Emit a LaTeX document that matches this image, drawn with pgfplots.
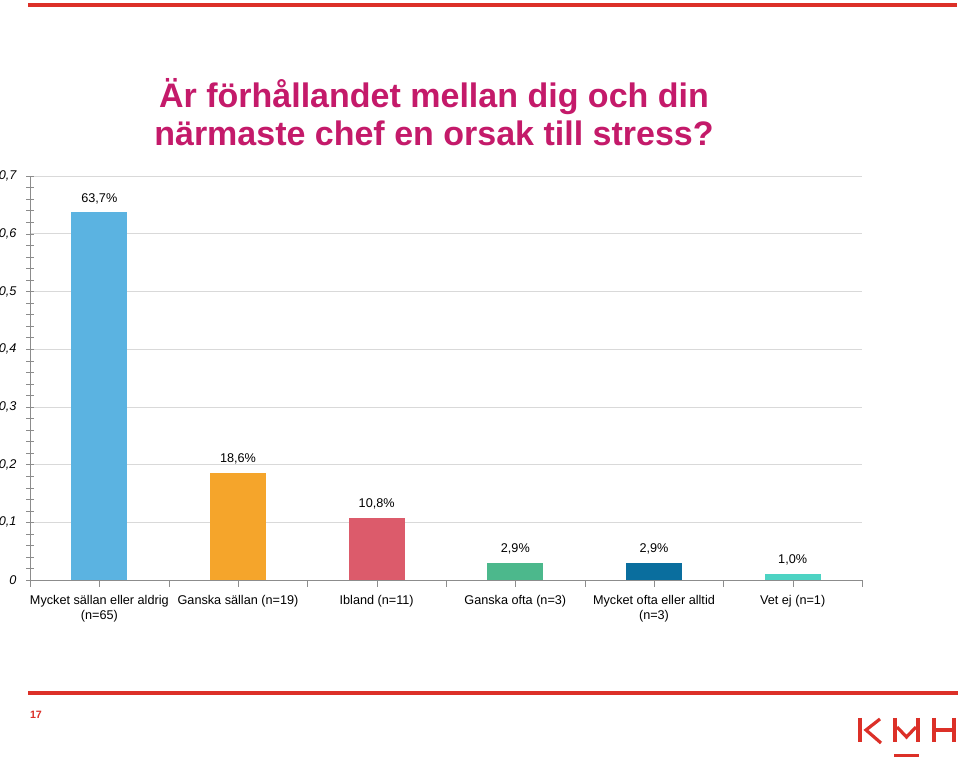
\documentclass[border=0pt]{standalone}
\usepackage{fontspec}
\setmainfont{Liberation Sans}
\usepackage{pgfplots}
\pgfplotsset{compat=1.18}
\definecolor{titlemag}{HTML}{C41A6A}
\definecolor{kmhred}{HTML}{DC3028}
\definecolor{axgray}{HTML}{8C8C8C}
\definecolor{gridgray}{HTML}{D9D9D9}
\definecolor{c1}{HTML}{5BB3E1}
\definecolor{c2}{HTML}{F5A52B}
\definecolor{c3}{HTML}{DC5B6B}
\definecolor{c4}{HTML}{4CB88C}
\definecolor{c5}{HTML}{0A6E9E}
\definecolor{c6}{HTML}{4DD3C3}

\begin{document}
\begin{tikzpicture}[x=0.75pt,y=0.75pt]
\useasboundingbox (0,0) rectangle (960,760);
\fill[white] (0,0) rectangle (960,760);

% slide frame
\fill[kmhred] (28,753) rectangle (957,757);
\fill[kmhred] (28,65) rectangle (958,69);
\node[kmhred, font=\fontsize{8}{9}\selectfont\bfseries] at (36,45) {17};
\begin{scope}[draw=kmhred, line width=2.4pt]
  \draw (860,42) -- (860,18);
  \draw (880,41) -- (866,30) -- (881,17);
  \draw (895,42) -- (895,18);
  \draw (918,42) -- (918,18);
  \draw (897,33) -- (906.5,23) -- (916,33);
  \draw (894,4.5) -- (919,4.5);
  \draw (934,42) -- (934,18);
  \draw (954,42) -- (954,18);
  \draw (934,30) -- (954,30);
\end{scope}

% title
\node[titlemag, font=\fontsize{25.5}{28.5}\selectfont\bfseries, align=center]
  at (434,648) {Är förhållandet mellan dig och din\\närmaste chef en orsak till stress?};

\begin{axis}[
  at={(22.5pt,135pt)}, anchor=south west,
  scale only axis,
  width=624pt, height=303pt,
  ymin=0, ymax=0.7,
  xmin=-0.5, xmax=5.5,
  axis x line=bottom, axis y line=left,
  axis line style={draw=axgray, -},
  ytick={0,0.1,...,0.7},
  minor y tick num=4,
  ymajorgrids, major grid style={draw=gridgray},
  tick align=center,
  major tick length=5.25pt, minor tick length=5.25pt,
  tick style={draw=axgray},
  x tick style={yshift=-2.4pt},
  xtick={0,...,5},
  minor xtick={-0.5,0.5,...,5.5},
  xticklabels={{Mycket sällan eller aldrig\\(n=65)},{Ganska sällan (n=19)},{Ibland (n=11)},{Ganska ofta (n=3)},{Mycket ofta eller alltid\\(n=3)},{Vet ej (n=1)}},
  xticklabel style={align=center, font=\fontsize{9.5}{11}\selectfont, yshift=-5.5pt},
  yticklabel style={font=\fontsize{9.5}{11}\selectfont\itshape, xshift=-4pt},
  /pgf/number format/.cd, use comma, assume math mode=true,
  /pgfplots/.cd,
  bar width=0.404,
  nodes near coords,
  point meta=explicit symbolic,
  nodes near coords style={font=\fontsize{9.5}{11}\selectfont, yshift=3pt},
]
\addplot[ybar, fill=c1, draw=none] coordinates {(0,0.637) [63,7\%]};
\addplot[ybar, fill=c2, draw=none] coordinates {(1,0.186) [18,6\%]};
\addplot[ybar, fill=c3, draw=none] coordinates {(2,0.108) [10,8\%]};
\addplot[ybar, fill=c4, draw=none] coordinates {(3,0.029) [2,9\%]};
\addplot[ybar, fill=c5, draw=none] coordinates {(4,0.029) [2,9\%]};
\addplot[ybar, fill=c6, draw=none] coordinates {(5,0.010) [1,0\%]};
\end{axis}
\end{tikzpicture}
\end{document}
